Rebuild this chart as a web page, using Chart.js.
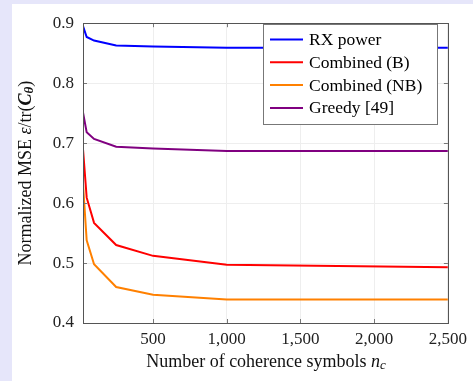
<!DOCTYPE html>
<html>
<head>
<meta charset="utf-8">
<script src="https://cdn.jsdelivr.net/npm/chart.js@4.4.1/dist/chart.umd.min.js"></script>
<style>
  html, body { margin: 0; padding: 0; background: #e6e6fa; }
  #panel { position: absolute; left: 12px; top: 4px; width: 461px; height: 377px; background: #fff; }
  canvas { display: block; }
</style>
</head>
<body>
<div id="panel"><canvas id="chart" width="461" height="377"></canvas></div>
<script>
// data
const nc = [25, 50, 100, 250, 500, 1000, 2500];
const rxPower = [0.895, 0.877, 0.871, 0.863, 0.861, 0.859, 0.859];
const combinedB = [0.690, 0.609, 0.567, 0.530, 0.512, 0.497, 0.493];
const combinedNB = [0.632, 0.538, 0.498, 0.460, 0.447, 0.439, 0.439];
const greedy = [0.751, 0.718, 0.707, 0.694, 0.691, 0.687, 0.687];
const xTicks = [500, 1000, 1500, 2000, 2500];
const yTicks = [0.4, 0.5, 0.6, 0.7, 0.8, 0.9];

const SERIF = "'Liberation Serif', 'DejaVu Serif', serif";
Chart.defaults.font.family = SERIF;

const series = [
  { label: 'RX power', data: rxPower, color: '#0000ff' },
  { label: 'Combined (B)', data: combinedB, color: '#ff0000' },
  { label: 'Combined (NB)', data: combinedNB, color: '#ff8000' },
  { label: 'Greedy [49]', data: greedy, color: '#800080' }
];

// frame, inner ticks, legend and axis titles (pgfplots look)
const decor = {
  id: 'decor',
  afterDatasetsDraw(chart) {
    const { ctx, chartArea: a, scales } = chart;
    ctx.save();
    // inner tick marks
    ctx.strokeStyle = '#777'; ctx.lineWidth = 1;
    ctx.beginPath();
    xTicks.forEach(v => {
      const x = Math.round(scales.x.getPixelForValue(v)) + 0.5;
      ctx.moveTo(x, a.bottom); ctx.lineTo(x, a.bottom - 4);
      ctx.moveTo(x, a.top); ctx.lineTo(x, a.top + 4);
    });
    yTicks.forEach(v => {
      const y = Math.round(scales.y.getPixelForValue(v)) + 0.5;
      ctx.moveTo(a.left, y); ctx.lineTo(a.left + 4, y);
      ctx.moveTo(a.right, y); ctx.lineTo(a.right - 4, y);
    });
    ctx.stroke();
    // frame
    ctx.strokeStyle = '#555';
    ctx.strokeRect(Math.round(a.left) + 0.5, Math.round(a.top) + 0.5,
      Math.round(a.right - a.left), Math.round(a.bottom - a.top));

    // legend
    const lx = 251.5, ly = 20.5, lw = 174, lh = 100;
    ctx.fillStyle = '#fff';
    ctx.fillRect(lx, ly, lw, lh);
    ctx.strokeStyle = '#777';
    ctx.strokeRect(lx, ly, lw, lh);
    ctx.font = '17.5px ' + SERIF;
    ctx.textBaseline = 'middle';
    ctx.textAlign = 'left';
    series.forEach((s, i) => {
      const y = 35.5 + i * 22.8;
      ctx.strokeStyle = s.color; ctx.lineWidth = 2;
      ctx.beginPath(); ctx.moveTo(258, y); ctx.lineTo(291, y); ctx.stroke();
      ctx.fillStyle = '#000';
      ctx.fillText(s.label, 297, y + 1);
    });

    // x title
    ctx.fillStyle = '#111';
    drawRuns(ctx, [
      ['Number of coherence symbols ', '18px ' + SERIF, 0],
      ['n', 'italic 18px ' + SERIF, 0],
      ['c', 'italic 13px ' + SERIF, 4]
    ], 254, 358, 0);

    // y title
    drawRuns(ctx, [
      ['Normalized MSE ', '18px ' + SERIF, 0],
      ['ε', 'italic 18px ' + SERIF, 0],
      ['/tr(', '18px ' + SERIF, 0],
      ['C', 'italic bold 18px ' + SERIF, 0],
      ['θ', 'italic bold 13px ' + SERIF, 4],
      [')', '18px ' + SERIF, 0]
    ], 14, (a.top + a.bottom) / 2, -Math.PI / 2);
    ctx.restore();
  }
};

function drawRuns(ctx, runs, cx, cy, rot) {
  let total = 0;
  runs.forEach(r => { ctx.font = r[1]; total += ctx.measureText(r[0]).width; });
  ctx.save();
  ctx.translate(cx, cy);
  ctx.rotate(rot);
  ctx.textBaseline = 'middle';
  ctx.textAlign = 'left';
  let x = -total / 2;
  runs.forEach(r => {
    ctx.font = r[1];
    ctx.fillText(r[0], x, r[2]);
    x += ctx.measureText(r[0]).width;
  });
  ctx.restore();
}

new Chart(document.getElementById('chart'), {
  type: 'line',
  data: {
    datasets: series.map(s => ({
      label: s.label,
      data: nc.map((x, i) => ({ x, y: s.data[i] })),
      borderColor: s.color,
      backgroundColor: s.color,
      borderWidth: 2,
      pointRadius: 0,
      tension: 0,
      fill: false
    }))
  },
  options: {
    responsive: false,
    animation: false,
    events: [],
    layout: { padding: { left: 0, top: 11, right: 24, bottom: 0 } },
    plugins: { legend: { display: false }, tooltip: { enabled: false } },
    scales: {
      x: {
        type: 'linear',
        min: 25, max: 2500,
        afterBuildTicks: s => { s.ticks = xTicks.map(v => ({ value: v })); },
        afterFit: s => { s.height = 58; },
        grid: { color: '#eeeeee', drawTicks: false },
        border: { display: false },
        ticks: {
          padding: 6,
          color: '#222',
          font: { family: SERIF, size: 17 },
          maxRotation: 0,
          callback: v => v.toLocaleString('en-US')
        }
      },
      y: {
        min: 0.4, max: 0.9,
        afterBuildTicks: s => { s.ticks = yTicks.map(v => ({ value: v })); },
        afterFit: s => { s.width = 71; },
        grid: { color: '#eeeeee', drawTicks: false },
        border: { display: false },
        ticks: {
          padding: 9,
          color: '#222',
          font: { family: SERIF, size: 17 },
          callback: v => v.toFixed(1)
        }
      }
    }
  },
  plugins: [decor]
});
</script>
</body>
</html>
